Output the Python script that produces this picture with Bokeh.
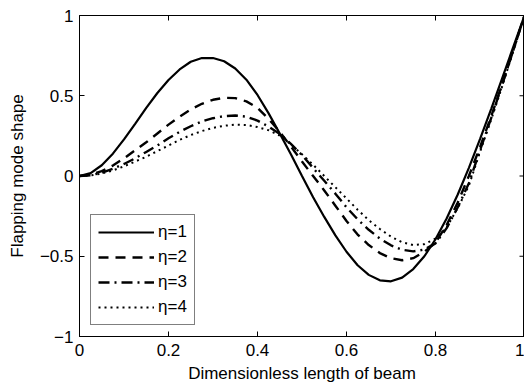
import math
from bokeh.plotting import figure
from bokeh.models import Range1d, FixedTicker, Legend, LegendItem
from bokeh.embed import file_html
from bokeh.resources import INLINE

# sample positions along the beam (dimensionless)
x_pos = [i / 40 for i in range(41)]

eta1 = [0.0, 0.018, 0.067, 0.139, 0.228, 0.325, 0.424, 0.517, 0.598, 0.664, 0.712,
        0.735, 0.735, 0.715, 0.670, 0.600, 0.505, 0.390, 0.265, 0.135, 0.0, -0.132,
        -0.255, -0.370, -0.472, -0.556, -0.616, -0.650, -0.656, -0.633, -0.580, -0.500,
        -0.394, -0.265, -0.115, 0.051, 0.230, 0.417, 0.610, 0.806, 1.0]
eta2 = [0.0, 0.008, 0.030, 0.065, 0.110, 0.160, 0.210, 0.265, 0.320, 0.370, 0.415,
        0.450, 0.475, 0.487, 0.485, 0.465, 0.425, 0.355, 0.275, 0.185, 0.090, 0.0,
        -0.090, -0.185, -0.280, -0.365, -0.430, -0.480, -0.512, -0.525, -0.512, -0.472,
        -0.415, -0.305, -0.165, 0.0, 0.180, 0.370, 0.575, 0.785, 1.0]
eta3 = [0.0, 0.005, 0.020, 0.045, 0.075, 0.110, 0.150, 0.190, 0.235, 0.275, 0.310,
        0.340, 0.360, 0.373, 0.377, 0.370, 0.345, 0.308, 0.263, 0.200, 0.130, 0.050,
        -0.030, -0.110, -0.195, -0.270, -0.335, -0.390, -0.432, -0.460, -0.470, -0.458,
        -0.420, -0.325, -0.195, -0.045, 0.160, 0.360, 0.570, 0.785, 1.0]
eta4 = [0.0, 0.004, 0.015, 0.035, 0.060, 0.090, 0.120, 0.155, 0.190, 0.225, 0.255,
        0.280, 0.300, 0.313, 0.320, 0.318, 0.305, 0.285, 0.252, 0.197, 0.135, 0.070,
        0.0, -0.070, -0.140, -0.210, -0.275, -0.330, -0.378, -0.413, -0.430, -0.425,
        -0.390, -0.320, -0.200, -0.060, 0.150, 0.350, 0.560, 0.780, 1.0]

labels = ["\u03b7=1", "\u03b7=2", "\u03b7=3", "\u03b7=4"]
series = [eta1, eta2, eta3, eta4]
dashes = ["solid", "10 7", "11 5 2 5", "2 4"]
widths = [2.2, 2.4, 2.4, 2.0]

x_ticks = [0, 0.2, 0.4, 0.6, 0.8, 1.0]
y_ticks = [-1, -0.5, 0, 0.5, 1]
y_tick_labels = {-1: "\u22121", -0.5: "\u22120.5", 0: "0", 0.5: "0.5", 1: "1"}

FONT = "Liberation Sans"
FS = "17px"

p = figure(width=524, height=387, output_backend="svg", toolbar_location=None,
           x_range=Range1d(0, 1), y_range=Range1d(-1, 1),
           min_border_left=79, min_border_right=0, min_border_top=15,
           min_border_bottom=51)
p.background_fill_color = "white"
p.border_fill_color = "white"
p.outline_line_color = "black"
p.outline_line_width = 1
p.xgrid.visible = False
p.ygrid.visible = False

for ax in (p.xaxis[0], p.yaxis[0]):
    ax.major_tick_in = 5
    ax.major_tick_out = 0
    ax.minor_tick_in = 0
    ax.minor_tick_out = 0
    ax.axis_line_color = "black"
    ax.major_label_text_font = FONT
    ax.major_label_text_font_size = FS
    ax.major_label_text_color = "black"
    ax.axis_label_text_font = FONT
    ax.axis_label_text_font_size = FS
    ax.axis_label_text_font_style = "normal"
    ax.axis_label_text_color = "black"

p.xaxis.ticker = FixedTicker(ticks=x_ticks)
p.xaxis.major_label_overrides = {1.0: "1", 0: "0"}
p.xaxis.axis_label = "Dimensionless length of beam"
p.xaxis.major_label_standoff = 7
p.xaxis.axis_label_standoff = 5

p.yaxis.ticker = FixedTicker(ticks=y_ticks)
p.yaxis.major_label_overrides = y_tick_labels
p.yaxis.axis_label = "Flapping mode shape"
p.yaxis.major_label_standoff = 6
p.yaxis.axis_label_standoff = 10

# mirrored inward ticks on the top and right edges (MATLAB box style)
p.ray(x=x_ticks, y=[1] * len(x_ticks), length=5, length_units="screen",
      angle=-math.pi / 2, line_color="black", line_width=1)
p.ray(x=[1] * len(y_ticks), y=y_ticks, length=5, length_units="screen",
      angle=math.pi, line_color="black", line_width=1)

items = []
for lab, ys, d, w in zip(labels, series, dashes, widths):
    r = p.line(x_pos, ys, line_color="black", line_width=w, line_dash=d)
    items.append(LegendItem(label=lab, renderers=[r]))

legend = Legend(items=items, location=(11, 11))
legend.label_text_font = FONT
legend.label_text_font_size = FS
legend.label_text_color = "black"
legend.border_line_color = "black"
legend.border_line_width = 1
legend.background_fill_alpha = 1
legend.padding = 7
legend.spacing = 5
legend.glyph_width = 56
legend.glyph_height = 20
legend.label_height = 20
legend.label_standoff = 4
legend.margin = 0
p.add_layout(legend)

open("out.html", "w").write(file_html(p, INLINE))
